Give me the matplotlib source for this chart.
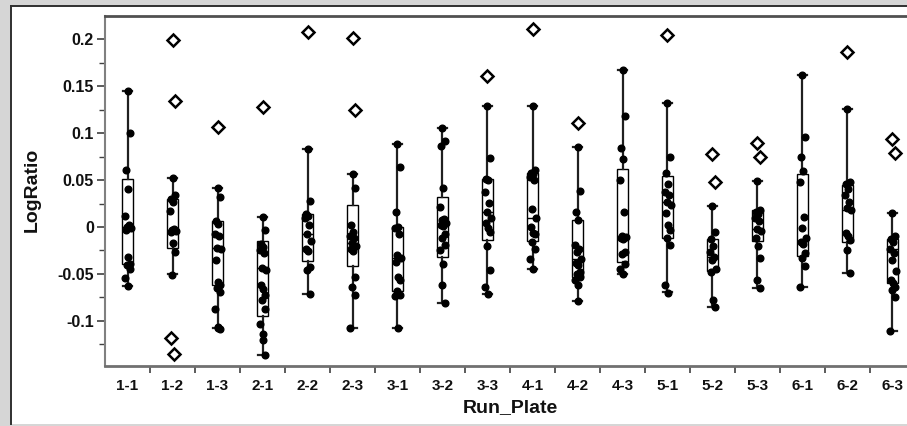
import matplotlib
matplotlib.use("Agg")
import matplotlib.pyplot as plt
from matplotlib.patches import Rectangle
from matplotlib.lines import Line2D
import numpy as np

plt.rcParams['font.family'] = ['Liberation Sans', 'DejaVu Sans']

categories = ["1-1", "1-2", "1-3", "2-1", "2-2", "2-3", "3-1", "3-2", "3-3",
              "4-1", "4-2", "4-3", "5-1", "5-2", "5-3", "6-1", "6-2", "6-3"]

q3 = [0.051, 0.030, 0.006, -0.015, 0.014, 0.023, 0.000, 0.032, 0.051,
      0.058, 0.007, 0.062, 0.054, -0.013, 0.018, 0.056, 0.045, -0.013]
med = [0.000, -0.003, -0.022, -0.044, -0.008, -0.017, -0.033, 0.003, 0.016,
       0.010, -0.034, -0.012, 0.027, -0.032, -0.002, -0.015, 0.018, -0.024]
q1 = [-0.039, -0.022, -0.062, -0.095, -0.036, -0.042, -0.068, -0.032, -0.014,
      -0.015, -0.053, -0.037, -0.012, -0.047, -0.015, -0.031, -0.016, -0.060]
whis_hi = [0.145, 0.052, 0.042, 0.011, 0.083, 0.057, 0.088, 0.106, 0.129,
           0.129, 0.085, 0.167, 0.132, 0.022, 0.049, 0.162, 0.126, 0.015]
whis_lo = [-0.063, -0.050, -0.108, -0.136, -0.071, -0.108, -0.108, -0.081, -0.071,
           -0.045, -0.079, -0.050, -0.069, -0.085, -0.065, -0.064, -0.049, -0.111]

points = [
    [0.145, 0.100, 0.061, 0.040, 0.012, 0.002, 0.000, -0.001, -0.003, -0.032, -0.039, -0.041, -0.045, -0.054, -0.063],
    [0.052, 0.034, 0.030, 0.027, 0.017, -0.002, -0.003, -0.004, -0.005, -0.017, -0.027, -0.051],
    [0.042, 0.032, 0.006, 0.003, -0.008, -0.010, -0.022, -0.024, -0.035, -0.059, -0.062, -0.065, -0.069, -0.087, -0.107, -0.108, -0.109],
    [0.011, -0.003, -0.018, -0.021, -0.025, -0.028, -0.044, -0.046, -0.062, -0.066, -0.072, -0.078, -0.087, -0.103, -0.114, -0.120, -0.136],
    [0.083, 0.028, 0.014, 0.012, 0.010, 0.002, -0.008, -0.015, -0.024, -0.026, -0.043, -0.046, -0.071],
    [0.057, 0.042, 0.002, -0.005, -0.010, -0.012, -0.017, -0.020, -0.024, -0.026, -0.053, -0.064, -0.072, -0.108],
    [0.088, 0.064, 0.016, 0.000, -0.001, -0.008, -0.030, -0.033, -0.037, -0.053, -0.057, -0.068, -0.072, -0.074, -0.108],
    [0.106, 0.092, 0.086, 0.042, 0.021, 0.009, 0.007, 0.004, 0.002, 0.001, -0.007, -0.012, -0.019, -0.025, -0.039, -0.062, -0.081],
    [0.129, 0.074, 0.051, 0.050, 0.037, 0.026, 0.016, 0.010, 0.004, -0.001, -0.005, -0.020, -0.046, -0.064, -0.071],
    [0.129, 0.061, 0.058, 0.056, 0.053, 0.050, 0.019, 0.010, 0.000, -0.006, -0.008, -0.016, -0.024, -0.034, -0.045],
    [0.085, 0.038, 0.016, 0.007, -0.019, -0.023, -0.027, -0.034, -0.038, -0.041, -0.048, -0.050, -0.053, -0.057, -0.062, -0.079],
    [0.167, 0.118, 0.084, 0.072, 0.050, 0.016, -0.010, -0.011, -0.012, -0.013, -0.027, -0.029, -0.040, -0.045, -0.050],
    [0.132, 0.075, 0.058, 0.046, 0.037, 0.034, 0.027, 0.023, 0.015, 0.002, -0.003, -0.012, -0.019, -0.062, -0.070],
    [0.022, -0.005, -0.013, -0.020, -0.027, -0.032, -0.035, -0.045, -0.048, -0.078, -0.085],
    [0.049, 0.018, 0.016, 0.014, 0.010, 0.006, -0.002, -0.004, -0.012, -0.020, -0.033, -0.056, -0.065],
    [0.162, 0.096, 0.075, 0.060, 0.048, 0.011, -0.001, -0.012, -0.016, -0.018, -0.028, -0.033, -0.042, -0.064],
    [0.126, 0.048, 0.046, 0.040, 0.034, 0.027, 0.020, 0.018, -0.006, -0.010, -0.014, -0.025, -0.049],
    [0.015, -0.010, -0.013, -0.016, -0.024, -0.028, -0.035, -0.047, -0.057, -0.060, -0.064, -0.067, -0.075, -0.111],
]

outliers = [
    [], [0.199, 0.134, -0.118, -0.135], [0.107], [0.128], [0.208], [0.201, 0.125],
    [], [], [0.161], [0.211], [0.111], [], [0.205], [0.078, 0.048], [0.090, 0.075],
    [], [0.186], [0.094, 0.079],
]

yticks = [-0.1, -0.05, 0, 0.05, 0.1, 0.15, 0.2]
ytick_labels = ["-0.1", "-0.05", "0", "0.05", "0.1", "0.15", "0.2"]

W, H = 907, 426
fig = plt.figure(figsize=(W / 100, H / 100), dpi=100)
fig.patch.set_facecolor('#d6d6d6')

# white panel with dark left/top borders (behind the axes)
fig.patches.append(Rectangle((11 / W, 2 / H), 1, (424 - 6) / H, transform=fig.transFigure,
                             facecolor='white', edgecolor='none', zorder=-10))
fig.lines.append(Line2D([10.5 / W, 10.5 / W], [2 / H, 1 - 5.5 / H], transform=fig.transFigure,
                        color='#303030', lw=1.4, zorder=-9))
fig.lines.append(Line2D([10.5 / W, 1], [1 - 5.5 / H, 1 - 5.5 / H], transform=fig.transFigure,
                        color='#303030', lw=1.4, zorder=-9))

ax = fig.add_axes([105 / W, 60 / H, 810 / W, 350 / H])
ax.set_zorder(1)
ax.set_facecolor('white')

pos = np.arange(len(categories))
stats = []
for i in range(len(categories)):
    stats.append(dict(med=med[i], q1=q1[i], q3=q3[i], whislo=whis_lo[i], whishi=whis_hi[i],
                      fliers=[], label=categories[i]))

ax.bxp(stats, positions=pos, widths=0.24, showfliers=False, patch_artist=True,
       boxprops=dict(facecolor='white', edgecolor='black', linewidth=1.0),
       medianprops=dict(color='black', linewidth=1.0),
       whiskerprops=dict(color='#202020', linewidth=1.6),
       capprops=dict(color='#202020', linewidth=1.6),
       capwidths=0.2, zorder=2)

jit = [0.0, 0.05, -0.03, 0.02, -0.05, 0.04, -0.01, 0.07, -0.04, 0.01, 0.05, -0.02, 0.06, -0.05, 0.01]
for i in range(len(categories)):
    ys = points[i]
    xs = [pos[i] + jit[k % len(jit)] for k in range(len(ys))]
    ax.plot(xs, ys, 'o', color='black', markersize=4.8, zorder=3)
    if outliers[i]:
        oxs = [pos[i] + [0.0, 0.06, -0.04, 0.03][k % 4] for k in range(len(outliers[i]))]
        ax.plot(oxs, outliers[i], 'D', markerfacecolor='white', markeredgecolor='black',
                markersize=6.5, markeredgewidth=1.8, zorder=3)

ax.set_xlim(-0.5, len(categories) - 0.5)
ax.set_ylim(-0.1482, 0.2249)

ax.set_yticks(yticks)
ax.set_yticklabels(ytick_labels)
ax.set_yticks(np.arange(-0.125, 0.2, 0.05), minor=True)
ax.tick_params(axis='y', which='major', direction='out', length=6, width=1.2, color='#404040',
               labelsize=11.5, pad=2, labelcolor='#111111')
ax.tick_params(axis='y', which='minor', direction='out', length=4, width=1.0, color='#404040')

ax.set_xticks(pos)
ax.set_xticklabels(categories)
ax.set_xticks(np.arange(0.5, len(categories) - 0.5, 1.0), minor=True)
ax.tick_params(axis='x', which='major', length=0, labelsize=11, pad=9, labelcolor='#111111')
ax.tick_params(axis='x', which='minor', direction='out', length=5, width=1.2, color='#404040')
for lab in ax.get_xticklabels() + ax.get_yticklabels():
    lab.set_fontweight('bold')

ax.spines['top'].set_color('#505050')
ax.spines['top'].set_linewidth(2.0)
ax.spines['left'].set_color('#808080')
ax.spines['left'].set_linewidth(1.5)
ax.spines['bottom'].set_color('#707070')
ax.spines['bottom'].set_linewidth(2.0)
ax.spines['right'].set_visible(False)

fig.text(510 / W, 1 - 408 / H, "Run_Plate", ha='center', va='center', fontsize=14,
         fontweight='bold', color='#111111')
fig.text(32 / W, 1 - 190 / H, "LogRatio", ha='center', va='center', rotation=90, fontsize=14,
         fontweight='bold', color='#111111')

fig.savefig("out.png", dpi=100, facecolor=fig.get_facecolor())
